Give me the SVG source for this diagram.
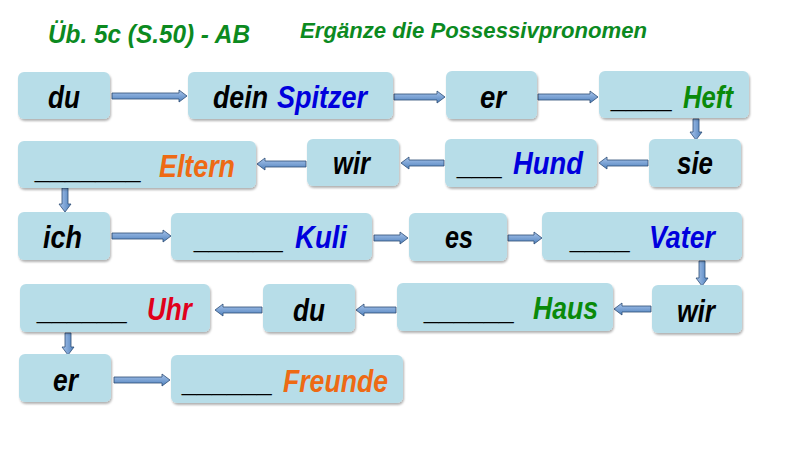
<svg xmlns="http://www.w3.org/2000/svg" width="800" height="449" viewBox="0 0 800 449">
<defs>
<style>
.box{fill:#b7dde8;filter:url(#sh)}
.t{font-family:"Liberation Sans",Arial,sans-serif;font-weight:bold;font-style:italic;font-size:31px;fill:#000}
.h{font-family:"Liberation Sans",Arial,sans-serif;font-weight:bold;font-style:italic;fill:#0c8a1f}
.bl{fill:#0000dd}.gr{fill:#0a8a0a}.or{fill:#ee6a14}.rd{fill:#e0001b}
.ah{fill:url(#gh);stroke:#2c4d75;stroke-width:0.8}
.av{fill:url(#gv);stroke:#2c4d75;stroke-width:0.8}
</style>
<filter id="sh" x="-10%" y="-10%" width="120%" height="130%">
<feDropShadow dx="1" dy="2" stdDeviation="1" flood-color="#000" flood-opacity="0.3"/>
</filter>
<linearGradient id="gh" x1="0" y1="0" x2="0" y2="1"><stop offset="0" stop-color="#a9c5ec"/><stop offset="1" stop-color="#4f81bd"/></linearGradient>
<linearGradient id="gv" x1="0" y1="0" x2="1" y2="0"><stop offset="0" stop-color="#a9c5ec"/><stop offset="1" stop-color="#4f81bd"/></linearGradient>
</defs>
<rect width="800" height="449" fill="#fff"/>
<text class="h" x="48" y="43" font-size="25" textLength="202" lengthAdjust="spacingAndGlyphs">Üb. 5c (S.50) - AB</text>
<text class="h" x="300" y="38" font-size="22" textLength="347" lengthAdjust="spacingAndGlyphs">Ergänze die Possessivpronomen</text>
<g id="connectors">
<path class="ah" d="M112,93 H179 V90 L187,96 L179,102 V99 H112 Z"/>
<path class="ah" d="M394,94 H437 V91 L445,97 L437,103 V100 H394 Z"/>
<path class="ah" d="M538,94 H590 V91 L598,97 L590,103 V100 H538 Z"/>
<path class="av" d="M693,119 V132 H690 L696,140 L702,132 H699 V119 Z"/>
<path class="ah" d="M648,160 H607 V157 L599,163 L607,169 V166 H648 Z"/>
<path class="ah" d="M444,160 H409 V157 L401,163 L409,169 V166 H444 Z"/>
<path class="ah" d="M306,161 H265 V158 L257,164 L265,170 V167 H306 Z"/>
<path class="av" d="M62,188 V204 H59 L65,212 L71,204 H68 V188 Z"/>
<path class="ah" d="M112,233 H163 V230 L171,236 L163,242 V239 H112 Z"/>
<path class="ah" d="M374,235 H400 V232 L408,238 L400,244 V241 H374 Z"/>
<path class="ah" d="M508,235 H534 V232 L542,238 L534,244 V241 H508 Z"/>
<path class="av" d="M699,261 V278 H696 L702,286 L708,278 H705 V261 Z"/>
<path class="ah" d="M651,306 H622 V303 L614,309 L622,315 V312 H651 Z"/>
<path class="ah" d="M396,307 H364 V304 L356,310 L364,316 V313 H396 Z"/>
<path class="ah" d="M262,307 H223 V304 L215,310 L223,316 V313 H262 Z"/>
<path class="av" d="M65,333 V347 H62 L68,355 L74,347 H71 V333 Z"/>
<path class="ah" d="M114,377 H162 V374 L170,380 L162,386 V383 H114 Z"/>
</g>
<g id="n1"><rect class="box" x="18" y="72" width="92" height="47" rx="6"/><text class="t" x="48" y="108" textLength="32" lengthAdjust="spacingAndGlyphs">du</text></g>
<g id="n2"><rect class="box" x="188" y="72" width="205" height="47" rx="6"/><text class="t" x="213" y="108" textLength="55" lengthAdjust="spacingAndGlyphs">dein</text><text class="t bl" x="277" y="108" textLength="90" lengthAdjust="spacingAndGlyphs">Spitzer</text></g>
<g id="n3"><rect class="box" x="446" y="71" width="91" height="48" rx="6"/><text class="t" x="480" y="108" textLength="26" lengthAdjust="spacingAndGlyphs">er</text></g>
<g id="n4"><rect class="box" x="599" y="71" width="150" height="47" rx="6"/><text class="t" x="612" y="107" textLength="61" lengthAdjust="spacingAndGlyphs">____</text><text class="t gr" x="683" y="108" textLength="50" lengthAdjust="spacingAndGlyphs">Heft</text></g>
<g id="n5"><rect class="box" x="649" y="139" width="92" height="48" rx="6"/><text class="t" x="677" y="174" textLength="36" lengthAdjust="spacingAndGlyphs">sie</text></g>
<g id="n6"><rect class="box" x="445" y="139" width="152" height="48" rx="6"/><text class="t" x="458" y="174" textLength="45" lengthAdjust="spacingAndGlyphs">___</text><text class="t bl" x="513" y="174" textLength="70" lengthAdjust="spacingAndGlyphs">Hund</text></g>
<g id="n7"><rect class="box" x="307" y="139" width="92" height="47" rx="6"/><text class="t" x="333" y="174" textLength="37" lengthAdjust="spacingAndGlyphs">wir</text></g>
<g id="n8"><rect class="box" x="18" y="141" width="238" height="47" rx="6"/><text class="t" x="36" y="178" textLength="106" lengthAdjust="spacingAndGlyphs">_______</text><text class="t or" x="159" y="177" textLength="76" lengthAdjust="spacingAndGlyphs">Eltern</text></g>
<g id="n9"><rect class="box" x="18" y="212" width="92" height="48" rx="6"/><text class="t" x="43" y="248" textLength="39" lengthAdjust="spacingAndGlyphs">ich</text></g>
<g id="n10"><rect class="box" x="171" y="213" width="201" height="47" rx="6"/><text class="t" x="195" y="248" textLength="89" lengthAdjust="spacingAndGlyphs">______</text><text class="t bl" x="295" y="248" textLength="52" lengthAdjust="spacingAndGlyphs">Kuli</text></g>
<g id="n11"><rect class="box" x="409" y="213" width="98" height="48" rx="6"/><text class="t" x="445" y="248" textLength="28" lengthAdjust="spacingAndGlyphs">es</text></g>
<g id="n12"><rect class="box" x="542" y="212" width="200" height="48" rx="6"/><text class="t" x="571" y="248" textLength="60" lengthAdjust="spacingAndGlyphs">____</text><text class="t bl" x="649" y="248" textLength="66" lengthAdjust="spacingAndGlyphs">Vater</text></g>
<g id="n13"><rect class="box" x="652" y="285" width="90" height="48" rx="6"/><text class="t" x="677" y="322" textLength="38" lengthAdjust="spacingAndGlyphs">wir</text></g>
<g id="n14"><rect class="box" x="397" y="283" width="216" height="48" rx="6"/><text class="t" x="425" y="319" textLength="90" lengthAdjust="spacingAndGlyphs">______</text><text class="t gr" x="533" y="319" textLength="65" lengthAdjust="spacingAndGlyphs">Haus</text></g>
<g id="n15"><rect class="box" x="263" y="284" width="92" height="48" rx="6"/><text class="t" x="293" y="321" textLength="32" lengthAdjust="spacingAndGlyphs">du</text></g>
<g id="n16"><rect class="box" x="20" y="284" width="190" height="48" rx="6"/><text class="t" x="38" y="319" textLength="90" lengthAdjust="spacingAndGlyphs">______</text><text class="t rd" x="147" y="320" textLength="45" lengthAdjust="spacingAndGlyphs">Uhr</text></g>
<g id="n17"><rect class="box" x="19" y="354" width="92" height="48" rx="6"/><text class="t" x="53" y="391" textLength="25" lengthAdjust="spacingAndGlyphs">er</text></g>
<g id="n18"><rect class="box" x="171" y="355" width="232" height="48" rx="6"/><text class="t" x="183" y="391" textLength="90" lengthAdjust="spacingAndGlyphs">______</text><text class="t or" x="283" y="392" textLength="105" lengthAdjust="spacingAndGlyphs">Freunde</text></g>
</svg>
